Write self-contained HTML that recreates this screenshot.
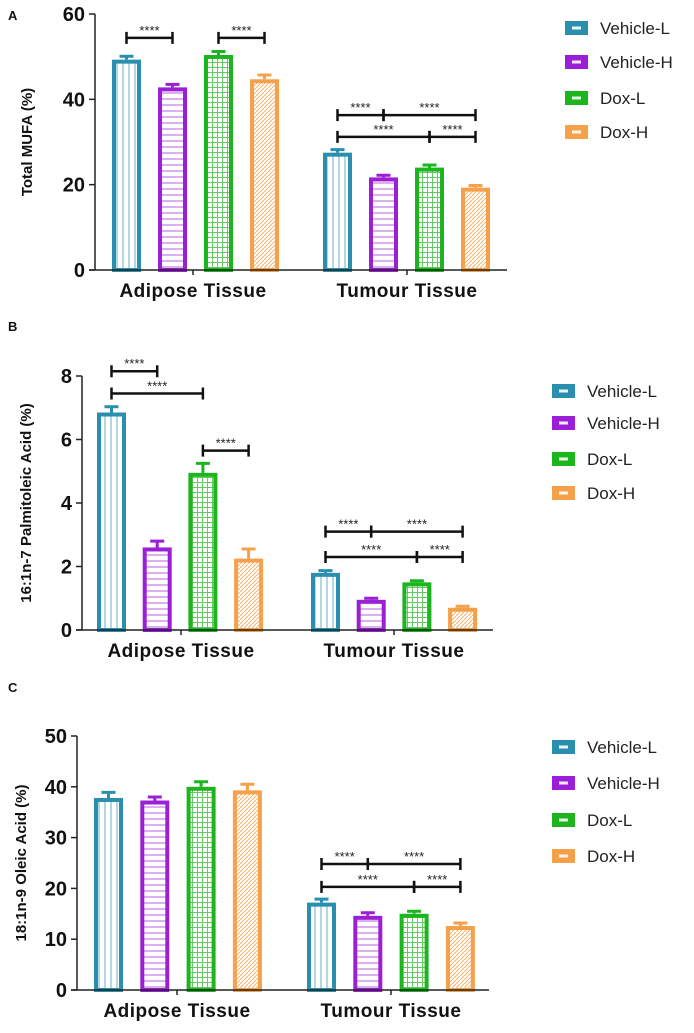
<!DOCTYPE html>
<html><head><meta charset="utf-8">
<style>
html,body{margin:0;padding:0;background:#fff;}
svg{display:block;font-family:"Liberation Sans",Arial,sans-serif;}
</style></head>
<body>
<svg id="fig" width="694" height="1033" viewBox="0 0 694 1033">
<defs>
<pattern id="pv" width="6" height="6" patternUnits="userSpaceOnUse"><rect width="6" height="6" fill="#fff"/><line x1="3" y1="0" x2="3" y2="6" stroke="#2a8fae" stroke-width="1" opacity="0.7"/></pattern>
<pattern id="ph" width="6" height="6" patternUnits="userSpaceOnUse"><rect width="6" height="6" fill="#fff"/><line x1="0" y1="3" x2="6" y2="3" stroke="#9b1fd6" stroke-width="1" opacity="0.7"/></pattern>
<pattern id="pg" width="5" height="5" patternUnits="userSpaceOnUse"><rect width="5" height="5" fill="#fff"/><path d="M2.5 0V5M0 2.5H5" stroke="#1db51d" stroke-width="1" opacity="0.7"/></pattern>
<pattern id="pd" width="4" height="4" patternUnits="userSpaceOnUse"><rect width="4" height="4" fill="#fff"/><path d="M0 4L4 0" stroke="#f5a04a" stroke-width="1" opacity="0.8"/></pattern>
</defs>
</svg>
<script>
// Shared
const seriesNames = ["Vehicle-L","Vehicle-H","Dox-L","Dox-H"];
const categories = ["Adipose Tissue","Tumour Tissue"];
// Panel A: Total MUFA
const aValues = [[49.3,42.8,50.4,44.7],[27.5,21.7,24.0,19.3]];
const aErrors = [[0.8,0.7,0.8,1.0],[0.7,0.5,0.6,0.5]];
const aTicks = [0,20,40,60];
const aSig = [[0,1,54.4],[2,3,54.4],[4,5,36.3],[5,7,36.3],[4,6,31.2],[6,7,31.2]];
// Panel B: 16:1n-7
const bValues = [[6.85,2.6,4.95,2.25],[1.8,0.95,1.5,0.7]];
const bErrors = [[0.18,0.2,0.3,0.3],[0.07,0.05,0.05,0.05]];
const bTicks = [0,2,4,6,8];
const bSig = [[0,1,8.15],[0,2,7.45],[2,3,5.65],[4,5,3.1],[5,7,3.1],[4,6,2.3],[6,7,2.3]];
// Panel C: 18:1n-9
const cValues = [[37.8,37.3,40.0,39.3],[17.2,14.6,15.0,12.6]];
const cErrors = [[1.1,0.7,1.0,1.2],[0.7,0.6,0.5,0.6]];
const cTicks = [0,10,20,30,40,50];
const cSig = [[4,5,24.8],[5,7,24.8],[4,6,20.3],[6,7,20.3]];

const colors = ["#2a8fae","#9b1fd6","#1db51d","#f5a04a"];
const fills = ["url(#pv)","url(#ph)","url(#pg)","url(#pd)"];
const NS = "http://www.w3.org/2000/svg";
const svg = document.getElementById("fig");
function el(tag, attrs, parent, text){
  const e = document.createElementNS(NS, tag);
  for (const k in attrs) e.setAttribute(k, attrs[k]);
  if (text !== undefined) e.textContent = text;
  (parent || svg).appendChild(e);
  return e;
}

const panels = [
  {id:"a", letter:"A", letterY:20, values:aValues, errors:aErrors, ticks:aTicks, sig:aSig, ymax:60, title:"Total MUFA (%)",
   axisX:95, top:14, bottom:270, axisEnd:507, groupStart:[112,323], step:46, bw:29, titleX:32, tickLab:[193,407],
   legX:565, legY:[28,62,98,132]},
  {id:"b", letter:"B", letterY:331, values:bValues, errors:bErrors, ticks:bTicks, sig:bSig, ymax:8, title:"16:1n-7 Palmitoleic Acid (%)",
   axisX:82, top:376, bottom:630, axisEnd:493, groupStart:[97,311], step:45.7, bw:29, titleX:31, tickLab:[181,394],
   legX:552, legY:[391,423,459,493]},
  {id:"c", letter:"C", letterY:692, values:cValues, errors:cErrors, ticks:cTicks, sig:cSig, ymax:50, title:"18:1n-9 Oleic Acid (%)",
   axisX:77, top:736, bottom:990, axisEnd:489, groupStart:[94,307], step:46.3, bw:29, titleX:26, tickLab:[177,391],
   legX:552, legY:[747,783,820,856]}
];

panels.forEach(p => {
  const g = el("g", {});
  
  
  const y = v => p.bottom - (v / p.ymax) * (p.bottom - p.top);
  const bx = (gi, si) => p.groupStart[gi] + si * p.step;

  const lt = el("text", {x:8, y:p.letterY, "font-size":13, "font-weight":"bold", fill:"#111"}, g, p.letter);
  
  

  const ya = el("line", {x1:p.axisX, y1:p.top, x2:p.axisX, y2:p.bottom, stroke:"#222", "stroke-width":1.5}, g);
  
  
  p.ticks.forEach(t => {
    el("line", {x1:p.axisX-6, y1:y(t), x2:p.axisX, y2:y(t), stroke:"#222", "stroke-width":1.5}, g);
    const tl = el("text", {x:p.axisX-10, y:y(t)+7, "text-anchor":"end", "font-size":20, "font-weight":"bold", fill:"#111"}, g, t);
    
    
  });
  const mid = (p.top + p.bottom) / 2;
  const yt = el("text", {x:p.titleX, y:mid, transform:`rotate(-90 ${p.titleX} ${mid})`, "text-anchor":"middle", "font-size":15, "font-weight":"bold", fill:"#111"}, g, p.title);
  
  

  p.values.forEach((grp, gi) => {
    grp.forEach((v, si) => {
      const x = bx(gi, si), e = p.errors[gi][si];
      const cx = x + p.bw/2;
      const eb = el("path", {d:`M${cx} ${y(v)} V${y(v+e)} M${cx-7} ${y(v+e)} H${cx+7}`, stroke:colors[si], "stroke-width":3, fill:"none"}, g);
      
      
      const r = el("rect", {x:x+2, y:y(v)+2, width:p.bw-4, height:Math.max(0, p.bottom - y(v) - 2), fill:fills[si], stroke:colors[si], "stroke-width":4}, g);
      
      
    });
  });

  const xa = el("line", {x1:p.axisX-6, y1:p.bottom, x2:p.axisEnd, y2:p.bottom, stroke:"#222", "stroke-width":1.5}, g);
  
  
  categories.forEach((c, i) => {
    el("line", {x1:p.tickLab[i], y1:p.bottom, x2:p.tickLab[i], y2:p.bottom+5, stroke:"#222", "stroke-width":1.5}, g);
    const cl = el("text", {x:p.tickLab[i], y:p.bottom+27, "text-anchor":"middle", "font-size":19, "font-weight":"bold", fill:"#111", "letter-spacing":"0.5"}, g, c);
    
    
  });

  p.sig.forEach(s => {
    const i = s[0], j = s[1];
    const x1 = bx(Math.floor(i/4), i%4) + p.bw/2;
    const x2 = bx(Math.floor(j/4), j%4) + p.bw/2;
    const yy = y(s[2]);
    const br = el("path", {d:`M${x1} ${yy-6} V${yy+6} M${x1} ${yy} H${x2} M${x2} ${yy-6} V${yy+6}`, stroke:"#111", "stroke-width":2.5, fill:"none"}, g);
    
    
    const st = el("text", {x:(x1+x2)/2, y:yy-3, "text-anchor":"middle", "font-size":13, fill:"#222"}, g, "****");
    
    
  });

  seriesNames.forEach((n, si) => {
    const ly = p.legY[si];
    const lg = el("g", {}, g);
    
    
    el("rect", {x:p.legX, y:ly-7, width:23, height:14, fill:colors[si]}, lg);
    el("rect", {x:p.legX+7, y:ly-1.5, width:9, height:3, fill:"#fff", opacity:0.9}, lg);
    el("text", {x:p.legX+35, y:ly+6, "font-size":17, fill:"#222"}, lg, n);
  });
});
</script>
</body></html>
